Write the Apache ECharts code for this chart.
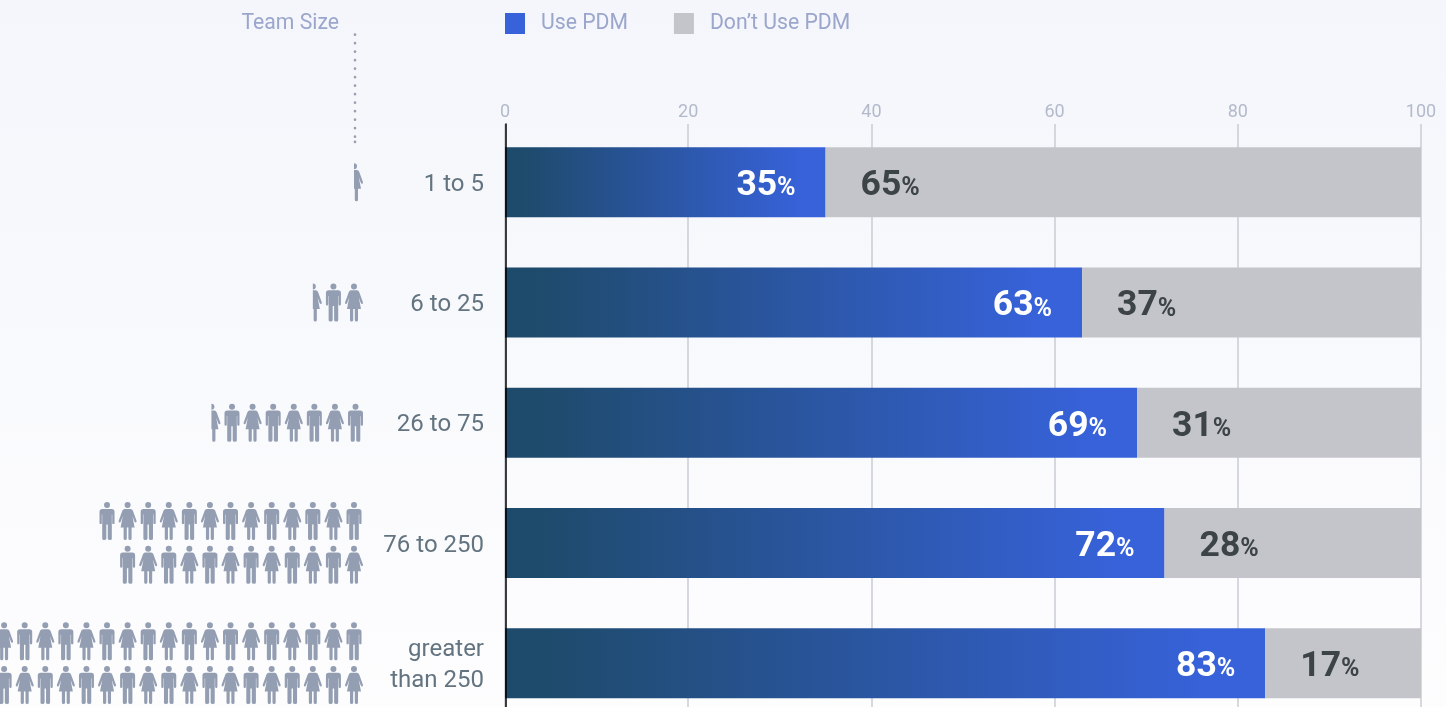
<!DOCTYPE html>
<html><head><meta charset="utf-8">
<style>html,body{margin:0;padding:0;background:#f4f6fb}#c{width:1446px;height:707px}</style>
<script src="https://cdn.jsdelivr.net/npm/echarts@6/dist/echarts.min.js"></script>
</head><body><div id="c"></div>
<script>
const categories = ['1 to 5', '6 to 25', '26 to 75', '76 to 250', 'greater\nthan 250'];
const usePdm = [35, 63, 69, 72, 83];
const dontUsePdm = [65, 37, 31, 28, 17];
// Icons per row, per team size: each row lists full icons, halves are marked separately
const iconRows = [[0], [2], [7], [13, 12], [18, 18]];
const halfIcons = [1, 1, 1, 0, 0];
const rowFirstIcon = [['w'], ['w'], ['m'], ['m', 'w'], ['m', 'w']];

const MAN = 'path://M45 30a30 30 0 1 0 60 0a30 30 0 1 0-60 0ZM28 68H122Q150 68 150 96V208Q150 220 139 220Q127 220 127 208V125H123V365Q123 380 106 380Q82 380 82 365V225H68V365Q68 380 44 380Q27 380 27 365V125H23V208Q23 220 11 220Q0 220 0 208V96Q0 68 28 68Z';
const WOMAN = 'path://M60 30a30 30 0 1 0 60 0a30 30 0 1 0-60 0ZM60 68H120Q135 68 142 85L180 190Q180 205 170 205Q162 205 158 195L138 140L160 255H130V365Q130 380 115 380Q98 380 98 365V255H82V365Q82 380 65 380Q50 380 50 365V255H20L42 140L22 195Q18 205 10 205Q0 205 0 190L38 85Q45 68 60 68Z';
const HALF = 'path://M0 0a30 30 0 0 1 0 60ZM0 68H30Q45 68 52 85L90 190Q90 205 80 205Q72 205 68 195L48 140L70 255H40V365Q40 380 25 380Q8 380 8 365V255H0Z';

const iconData = [];
iconRows.forEach((rows, cat) => {
  rows.forEach((count, r) => {
    const rowY = cat + 0.5 + (rows.length > 1 ? (r === 0 ? -0.181 : 0.181) : 0);
    const nudge = cat === 2 ? 1.5 : 0;
    for (let i = 0; i < count; i++) {
      const first = rowFirstIcon[cat][r];
      const isMan = (i % 2 === 0) === (first === 'm');
      iconData.push({ value: [i, rowY], symbol: isMan ? MAN : WOMAN, symbolSize: isMan ? [15, 38] : [18, 38], symbolOffset: [nudge, 0] });
    }
    if (halfIcons[cat]) {
      iconData.push({ value: [count, rowY], symbol: HALF, symbolSize: [9, 38], symbolOffset: [4.5 + nudge, 0] });
    }
  });
});

const FONT = 'Roboto';
const richLabel = (color) => ({
  big: { fontFamily: FONT, fontSize: 35.5, fontWeight: 700, color: color, verticalAlign: 'bottom', lineHeight: 40, height: 40 },
  pct: { fontFamily: FONT, fontSize: 25, fontWeight: 700, color: color, verticalAlign: 'bottom', lineHeight: 40, height: 40, padding: [0, 0, -3, 0] }
});
const fmt = p => '{big|' + p.value + '}{pct|%}';
const barGradient = { type: 'linear', x: 0, y: 0, x2: 1, y2: 0, colorStops: [{ offset: 0.05, color: '#1e4a6b' }, { offset: 0.93, color: '#3762da' }] };

const chart = echarts.init(document.getElementById('c'), null, { renderer: 'canvas', width: 1446, height: 707 });
chart.setOption({
  animation: false,
  backgroundColor: { type: 'linear', x: 0, y: 0, x2: 0, y2: 1, colorStops: [{ offset: 0, color: '#f4f6fb' }, { offset: 1, color: '#fdfdfe' }] },
  textStyle: { fontFamily: FONT },
  legend: {
    left: 505, top: 13, padding: 0, itemWidth: 20, itemHeight: 21, itemGap: 46, icon: 'rect',
    textStyle: { color: '#9aa6cc', fontSize: 21.2, fontFamily: FONT, padding: [2, 0, 0, 11] },
    data: [
      { name: 'Use PDM', itemStyle: { color: '#3762da' } },
      { name: 'Don\u2019t Use PDM', itemStyle: { color: '#c4c5ca' } }
    ],
    selectedMode: false
  },
  grid: [
    { left: 505, width: 916, top: 122, height: 601.25, outerBoundsMode: 'none' },
    { left: 505, width: 916, top: 124, height: 599.25, outerBoundsMode: 'none' },
    { left: 0, width: 354, top: 122, height: 601.25, outerBoundsMode: 'none' },
    { left: 505, width: 916, top: 124.7, height: 601.25, outerBoundsMode: 'none' }
  ],
  xAxis: [
    { gridIndex: 0, type: 'value', min: 0, max: 100, show: false },
    { gridIndex: 1, type: 'value', min: 0, max: 100, interval: 20, position: 'top',
      axisLine: { show: false }, axisTick: { show: false },
      axisLabel: { color: '#b3bacb', fontSize: 18, fontFamily: FONT, margin: 3 },
      splitLine: { show: true, lineStyle: { color: '#c9ccd3', width: 1.5 } } },
    { gridIndex: 2, type: 'value', min: 0, max: 17.2, inverse: true, show: false },
    { gridIndex: 3, type: 'value', min: 0, max: 100, show: false }
  ],
  yAxis: [
    { gridIndex: 0, type: 'category', inverse: true, data: categories, show: false },
    { gridIndex: 1, type: 'category', inverse: true, data: categories, z: 10,
      axisLine: { show: true, onZero: false, lineStyle: { color: '#000', width: 1.5 } }, offset: -1,
      axisTick: { show: false }, axisLabel: { show: false }, splitLine: { show: false } },
    { gridIndex: 2, type: 'value', min: 0, max: 5, inverse: true, show: false },
    { gridIndex: 3, type: 'category', inverse: true, data: categories,
      axisLine: { show: false }, axisTick: { show: false }, splitLine: { show: false },
      axisLabel: { color: '#637480', fontSize: 24, fontFamily: FONT, margin: 21, lineHeight: 31, align: 'right' } }
  ],
  series: [
    { name: 'Use PDM', type: 'bar', stack: 'a', xAxisIndex: 0, yAxisIndex: 0, barWidth: 70, data: usePdm,
      itemStyle: { color: barGradient }, z: 3,
      label: { show: true, position: 'insideRight', distance: 30, offset: [0, 4], formatter: fmt, rich: richLabel('#fff') } },
    { name: 'Don\u2019t Use PDM', type: 'bar', stack: 'a', xAxisIndex: 0, yAxisIndex: 0, barWidth: 70, data: dontUsePdm,
      itemStyle: { color: '#c4c5ca' }, z: 3,
      label: { show: true, position: 'insideLeft', distance: 35, offset: [0, 4], formatter: fmt, rich: richLabel('#3d4447') } },
    { name: 'people', type: 'scatter', xAxisIndex: 2, yAxisIndex: 2, data: iconData, silent: true, clip: false,
      itemStyle: { color: '#939eb2', opacity: 1 } }
  ],
  graphic: [
    { type: 'text', right: 1107, top: 13, style: { text: 'Team Size', fill: '#9aa6cc', fontSize: 21.2, fontFamily: FONT } },
    { type: 'line', shape: { x1: 355, y1: 34.5, x2: 355, y2: 137 }, style: { stroke: '#9a9fb0', lineWidth: 2.6, lineCap: 'round', lineDash: [0.2, 8.3] } },
    { type: 'line', shape: { x1: 355, y1: 141.7, x2: 355, y2: 142 }, style: { stroke: '#9a9fb0', lineWidth: 2.6, lineCap: 'round' } }
  ]
});
</script></body></html>
